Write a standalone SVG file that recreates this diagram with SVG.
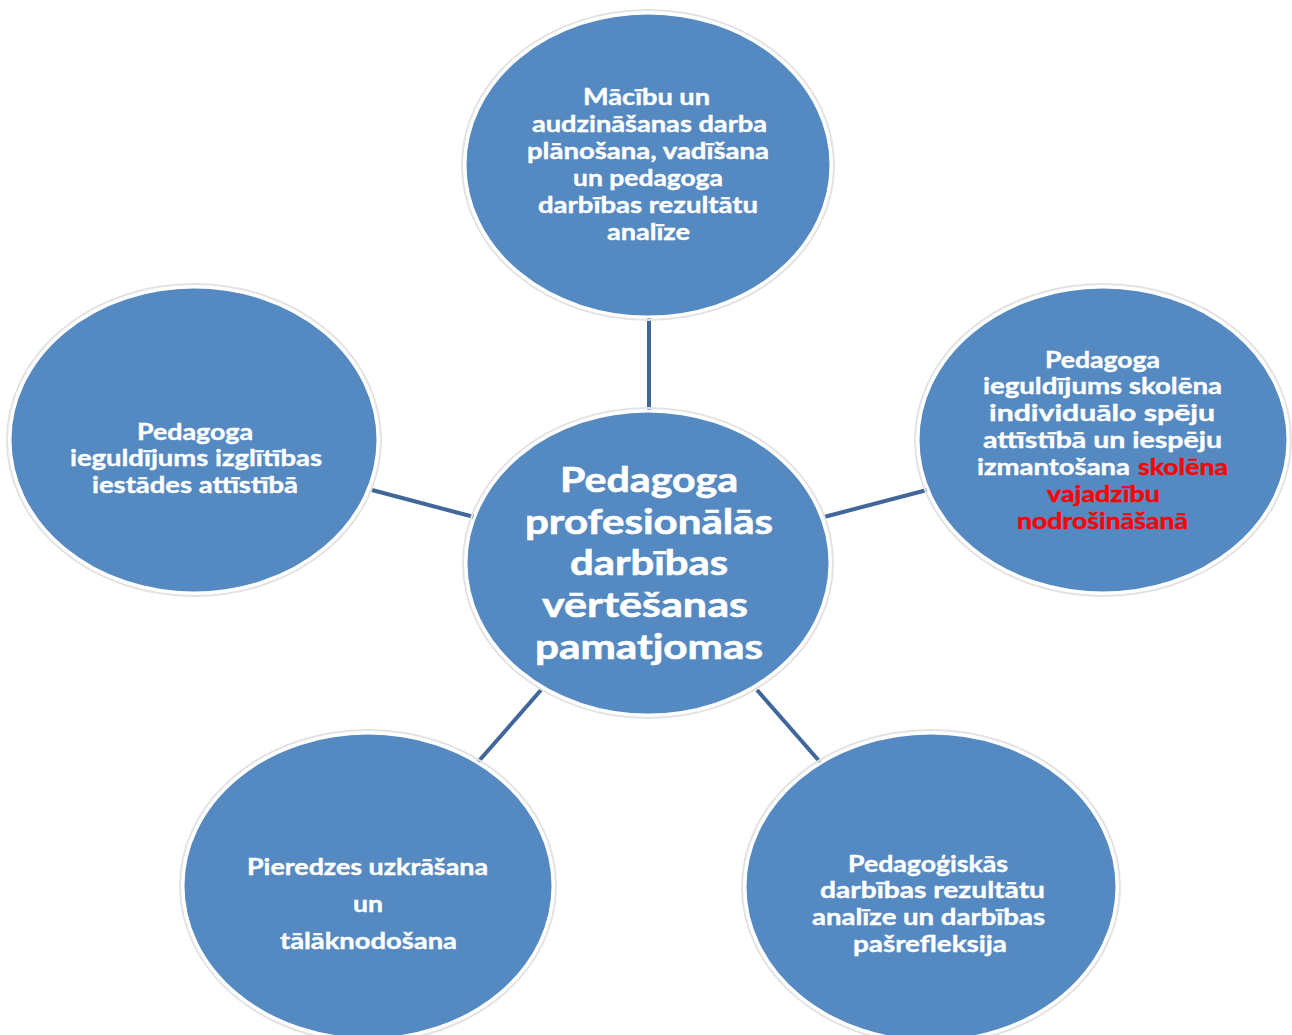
<svg xmlns="http://www.w3.org/2000/svg" width="1292" height="1035" viewBox="0 0 1292 1035">
<style>
.halo{fill:none;stroke:#e3e3e3;stroke-width:2}
.node{fill:#5589C1;stroke:#ffffff;stroke-width:3}
.conn{stroke:#41669A;stroke-width:4;fill:none}
.t{font-family:Lato,"Open Sans","Liberation Sans",sans-serif;font-weight:700;font-size:22.5px;fill:#ffffff;stroke:#ffffff;stroke-width:0.4;text-anchor:middle}
.tc{font-size:34px;stroke-width:0.6}
.red{fill:#FF0000;stroke:#FF0000}
.l{text-anchor:start}
</style>
<rect width="1292" height="1035" fill="#ffffff"/>
<g id="connectors">
<line class="conn" x1="649" y1="318" x2="649" y2="411"/>
<line class="conn" x1="372" y1="490" x2="474" y2="517"/>
<line class="conn" x1="824" y1="517" x2="927" y2="490"/>
<line class="conn" x1="541" y1="690" x2="478" y2="762"/>
<line class="conn" x1="757" y1="690" x2="820" y2="762"/>
</g>
<g id="node-top">
<ellipse class="halo" cx="648" cy="165" rx="186" ry="155"/>
<ellipse class="node" cx="648" cy="165" rx="183" ry="152"/>
<text class="t" x="646.5" y="105" textLength="127" lengthAdjust="spacingAndGlyphs">Mācību un</text>
<text class="t" x="649.5" y="132" textLength="235" lengthAdjust="spacingAndGlyphs">audzināšanas darba</text>
<text class="t" x="648" y="159" textLength="242" lengthAdjust="spacingAndGlyphs">plānošana, vadīšana</text>
<text class="t" x="648" y="186" textLength="150" lengthAdjust="spacingAndGlyphs">un pedagoga</text>
<text class="t" x="648" y="213" textLength="220" lengthAdjust="spacingAndGlyphs">darbības rezultātu</text>
<text class="t" x="648.5" y="240" textLength="83" lengthAdjust="spacingAndGlyphs">analīze</text>
</g>
<g id="node-left">
<ellipse class="halo" cx="194" cy="440" rx="187" ry="156"/>
<ellipse class="node" cx="194" cy="440" rx="184" ry="153"/>
<text class="t" x="195" y="440" textLength="116" lengthAdjust="spacingAndGlyphs">Pedagoga</text>
<text class="t" x="196" y="466" textLength="252" lengthAdjust="spacingAndGlyphs">ieguldījums izglītības</text>
<text class="t" x="195" y="493" textLength="206" lengthAdjust="spacingAndGlyphs">iestādes attīstībā</text>
</g>
<g id="node-right">
<ellipse class="halo" cx="1103" cy="440" rx="188" ry="156"/>
<ellipse class="node" cx="1103" cy="440" rx="185" ry="153"/>
<text class="t" x="1102.5" y="368" textLength="115" lengthAdjust="spacingAndGlyphs">Pedagoga</text>
<text class="t" x="1102.5" y="394" textLength="239" lengthAdjust="spacingAndGlyphs">ieguldījums skolēna</text>
<text class="t" x="1102" y="421" textLength="226" lengthAdjust="spacingAndGlyphs">individuālo spēju</text>
<text class="t" x="1102.5" y="448" textLength="239" lengthAdjust="spacingAndGlyphs">attīstībā un  iespēju</text>
<text class="t l" x="977" y="475" textLength="153" lengthAdjust="spacingAndGlyphs">izmantošana</text>
<text class="t l red" x="1138" y="475" textLength="90" lengthAdjust="spacingAndGlyphs">skolēna</text>
<text class="t red" x="1103.5" y="502" textLength="113" lengthAdjust="spacingAndGlyphs">vajadzību</text>
<text class="t red" x="1102.5" y="529" textLength="171" lengthAdjust="spacingAndGlyphs">nodrošināšanā</text>
</g>
<g id="node-center">
<ellipse class="halo" cx="648" cy="563" rx="185" ry="155"/>
<ellipse class="node" cx="648" cy="563" rx="182" ry="152"/>
<text class="t tc" x="649" y="492" textLength="178" lengthAdjust="spacingAndGlyphs">Pedagoga</text>
<text class="t tc" x="649" y="534" textLength="248" lengthAdjust="spacingAndGlyphs">profesionālās</text>
<text class="t tc" x="649" y="575" textLength="158" lengthAdjust="spacingAndGlyphs">darbības</text>
<text class="t tc" x="645" y="617" textLength="206" lengthAdjust="spacingAndGlyphs">vērtēšanas</text>
<text class="t tc" x="649" y="659" textLength="228" lengthAdjust="spacingAndGlyphs">pamatjomas</text>
</g>
<g id="node-bottom-left">
<ellipse class="halo" cx="368" cy="886" rx="188" ry="156"/>
<ellipse class="node" cx="368" cy="886" rx="185" ry="153"/>
<text class="t" x="367.5" y="875" textLength="241" lengthAdjust="spacingAndGlyphs">Pieredzes uzkrāšana</text>
<text class="t" x="368" y="912" textLength="30" lengthAdjust="spacingAndGlyphs">un</text>
<text class="t" x="368.5" y="949" textLength="177" lengthAdjust="spacingAndGlyphs">tālāknodošana</text>
</g>
<g id="node-bottom-right">
<ellipse class="halo" cx="931" cy="887" rx="189" ry="157"/>
<ellipse class="node" cx="931" cy="887" rx="186" ry="154"/>
<text class="t" x="928" y="872" textLength="160" lengthAdjust="spacingAndGlyphs">Pedagoģiskās</text>
<text class="t" x="932.5" y="898" textLength="225" lengthAdjust="spacingAndGlyphs">darbības rezultātu</text>
<text class="t" x="928.5" y="925" textLength="233" lengthAdjust="spacingAndGlyphs">analīze un darbības</text>
<text class="t" x="930" y="952" textLength="154" lengthAdjust="spacingAndGlyphs">pašrefleksija</text>
</g>
</svg>
